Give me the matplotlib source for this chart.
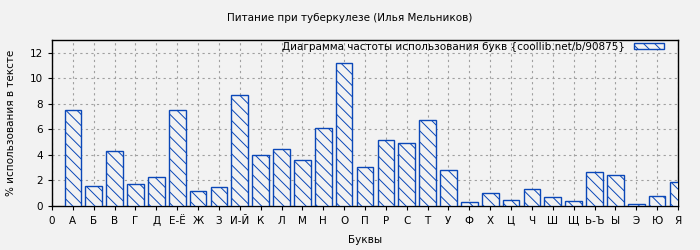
import matplotlib
matplotlib.use("Agg")
import matplotlib.pyplot as plt

plt.rcParams['font.family'] = ['DejaVu Sans']
plt.rcParams['hatch.linewidth'] = 0.7
plt.rcParams['hatch.color'] = '#0a47b8'

tick_labels = ["0", "А", "Б", "В", "Г", "Д", "Е-Ё", "Ж", "З", "И-Й", "К", "Л", "М", "Н", "О",
               "П", "Р", "С", "Т", "У", "Ф", "Х", "Ц", "Ч", "Ш", "Щ", "Ь-Ъ", "Ы", "Э", "Ю", "Я"]
letters = tick_labels[1:]
values = [7.48, 1.55, 4.3, 1.7, 2.25, 7.5, 1.15, 1.47, 8.73, 3.98, 4.44, 3.58, 6.09, 11.23,
          3.03, 5.15, 4.91, 6.7, 2.82, 0.29, 0.99, 0.45, 1.31, 0.7, 0.37, 2.64, 2.41, 0.13, 0.78, 1.86]

bg = '#f2f2f2'
blue = '#0a47b8'

fig = plt.figure(figsize=(7, 2.5), dpi=100, facecolor=bg)
ax = fig.add_axes([52/700, 44/250, 626/700, 166/250], facecolor=bg)

positions = list(range(1, len(letters) + 1))
ax.bar(positions, values, width=0.8, facecolor=bg, edgecolor=blue, linewidth=1.0,
       hatch='\\\\\\', label='Диаграмма частоты использования букв {coollib.net/b/90875}', zorder=3)

ax.set_xlim(0, 30)
ax.set_ylim(0, 13)
ax.set_xticks(range(0, 31))
ax.set_xticklabels(tick_labels, fontsize=7.5)
ax.set_yticks(range(0, 13, 2))
ax.tick_params(axis='y', labelsize=7.5, length=3, direction='out', width=0.8)
ax.tick_params(axis='x', length=3, direction='out', width=0.8, pad=4)
ax.grid(True, color='#a0a0a0', linestyle=(0, (2, 3)), linewidth=0.8, zorder=0)
for s in ax.spines.values():
    s.set_linewidth(1.0)
    s.set_color('black')

ax.set_xlabel('Буквы', fontsize=7.5, labelpad=7)
ax.set_ylabel('% использования в тексте', fontsize=7.5, labelpad=10)
fig.text(0.5, 1 - 18/250, 'Питание при туберкулезе (Илья Мельников)', ha='center', va='center', fontsize=7.5)

leg = ax.legend(loc='upper right', frameon=False, fontsize=7.5, markerfirst=False,
                handlelength=2.9, handleheight=0.6, borderaxespad=0, borderpad=0,
                handletextpad=0.8, bbox_to_anchor=((664 - 52) / 626, 1 - 1.5 / 166))

fig.savefig('out.png', dpi=100, facecolor=bg)
